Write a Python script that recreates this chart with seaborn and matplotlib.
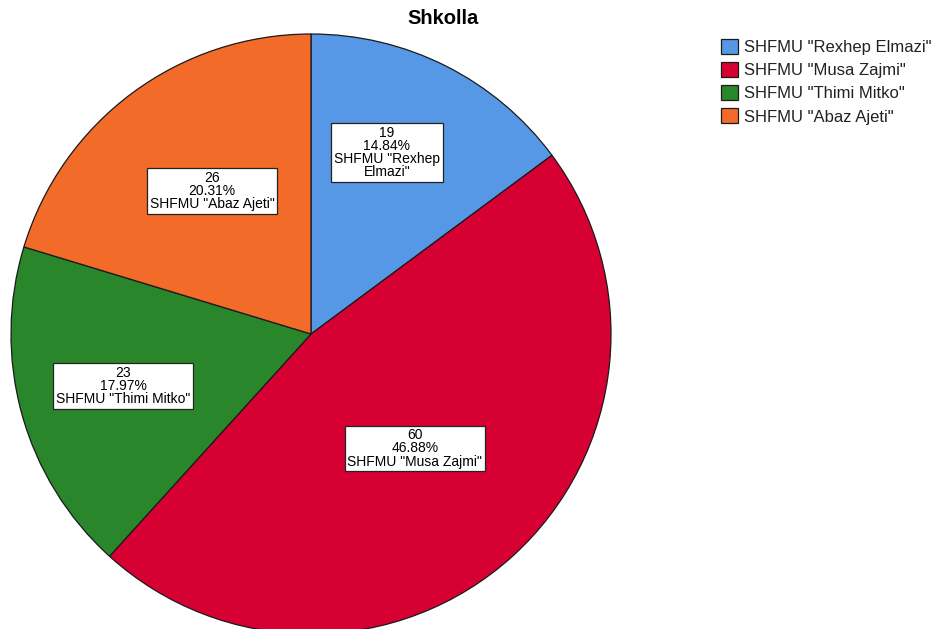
import matplotlib
matplotlib.use("Agg")
import matplotlib.pyplot as plt
import seaborn as sns
import numpy as np

categories = ['SHFMU "Rexhep Elmazi"', 'SHFMU "Musa Zajmi"', 'SHFMU "Thimi Mitko"', 'SHFMU "Abaz Ajeti"']
box_names = ['SHFMU "Rexhep\nElmazi"', 'SHFMU "Musa Zajmi"', 'SHFMU "Thimi Mitko"', 'SHFMU "Abaz Ajeti"']
counts = [19, 60, 23, 26]
percents = ["14.84%", "46.88%", "17.97%", "20.31%"]
colors = ["#5698e6", "#d60032", "#2a862b", "#f26b28"]
label_radius = [0.655, 0.515, 0.65, 0.58]
label_angle_shift = [4, 0, 0, -2]

sns.set_theme(style="white")
plt.rcParams['font.family'] = ['Liberation Sans', 'DejaVu Sans']
plt.rcParams['text.color'] = 'black'

fig = plt.figure(figsize=(9.36, 6.29), dpi=100)
W, H = 936, 629
cx, cy, r = 311, 629 - 334, 300
ax = fig.add_axes([(cx - r) / W, (cy - r) / H, 2 * r / W, 2 * r / H])
pal = sns.color_palette(colors)
wedges, _ = ax.pie(counts, colors=pal, startangle=90, counterclock=False,
                   wedgeprops=dict(edgecolor="#1a1a1a", linewidth=0.9), radius=1)
ax.set_xlim(-1, 1)
ax.set_ylim(-1, 1)
ax.set_aspect("equal")
ax.axis("off")

for w, c, p, n, d, s in zip(wedges, counts, percents, box_names, label_radius, label_angle_shift):
    th = np.deg2rad((w.theta1 + w.theta2) / 2 + s)
    ax.text(d * np.cos(th), d * np.sin(th), f"{c}\n{p}\n{n}", ha="center", va="center",
            fontsize=10, linespacing=0.92, color="black",
            bbox=dict(boxstyle="square,pad=0.2", facecolor="white", edgecolor="#222222", linewidth=0.9))

fig.text(443 / W, 1 - 19 / H, "Shkolla", ha="center", va="center", fontsize=14.5, fontweight="bold")

leg = fig.legend(wedges, categories, loc="upper left", bbox_to_anchor=(721 / W, 1 - 39 / H),
                 frameon=False, fontsize=12, handlelength=1.0, handleheight=1.0,
                 handletextpad=0.4, labelspacing=0.42, borderaxespad=0, borderpad=0)
for t in leg.get_texts():
    t.set_color("#222222")

fig.savefig("out.png", dpi=100)
